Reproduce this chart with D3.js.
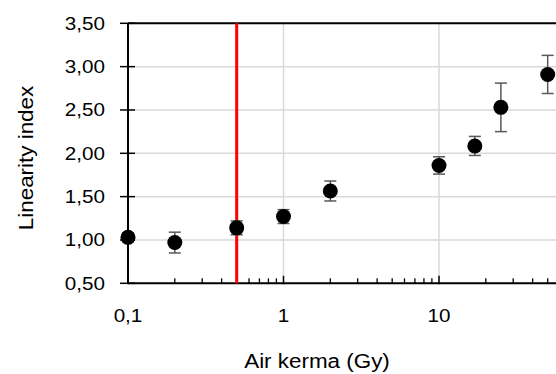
<!DOCTYPE html>
<html><head><meta charset="utf-8">
<script src="https://cdn.jsdelivr.net/npm/d3@7"></script>
<style>body{margin:0;background:#fff;} svg{display:block;font-family:"Liberation Sans",Arial,sans-serif;}</style>
</head><body>
<svg id="c" width="556" height="374"></svg>
<script>
const doses = [0.1, 0.2, 0.5, 1, 2, 10, 17, 25, 50];
const linearity = [1.03, 0.97, 1.14, 1.27, 1.565, 1.86, 2.085, 2.53, 2.91];
const errors = [0.05, 0.12, 0.08, 0.08, 0.115, 0.10, 0.11, 0.28, 0.22];
const yTicks = [0.5, 1.0, 1.5, 2.0, 2.5, 3.0, 3.5];
const xTicks = [0.1, 1, 10, 100];
const xTickLabels = [0.1, 1, 10];
const threshold = 0.5;
const xTitle = "Air kerma (Gy)";
const yTitle = "Linearity index";

const svg = d3.select("#c");
const L = 128, T = 23.3, B = 283.3, decade = 155.5;
const x = d3.scaleLog().domain([0.1, 100]).range([L, L + 3 * decade]);
const y = d3.scaleLinear().domain([0.5, 3.5]).range([B, T]);
const fmtY = d => d.toFixed(2).replace(".", ",");
const fmtX = d => String(d).replace(".", ",");

// gridlines
svg.append("g").selectAll("line").data(yTicks.filter(d => d > 0.5 && d < 3.5)).join("line")
  .attr("x1", L).attr("x2", 600).attr("y1", d => y(d)).attr("y2", d => y(d))
  .attr("stroke", "#d9d9d9").attr("stroke-width", 1.5);
svg.append("g").selectAll("line").data(xTicks.filter(d => d > 0.1)).join("line")
  .attr("x1", d => x(d)).attr("x2", d => x(d)).attr("y1", T).attr("y2", B)
  .attr("stroke", "#d9d9d9").attr("stroke-width", 1.5);

// minor x ticks
const minor = [];
[0.1, 1, 10].forEach(dec => { for (let k = 2; k <= 9; k++) minor.push(dec * k); });
svg.append("g").selectAll("line").data(minor).join("line")
  .attr("x1", d => x(d)).attr("x2", d => x(d)).attr("y1", B - 5).attr("y2", B)
  .attr("stroke", "#000").attr("stroke-width", 1.3);
svg.append("g").selectAll("line").data(xTicks).join("line")
  .attr("x1", d => x(d)).attr("x2", d => x(d)).attr("y1", B - 7.5).attr("y2", B + 1)
  .attr("stroke", "#000").attr("stroke-width", 1.5);

// y ticks
svg.append("g").selectAll("line").data(yTicks).join("line")
  .attr("x1", L - 8).attr("x2", L + 7).attr("y1", d => y(d)).attr("y2", d => y(d))
  .attr("stroke", "#000").attr("stroke-width", 1.5);

// frame
svg.append("line").attr("x1", L).attr("x2", 600).attr("y1", T).attr("y2", T).attr("stroke", "#000").attr("stroke-width", 2);
svg.append("line").attr("x1", L).attr("x2", 600).attr("y1", B).attr("y2", B).attr("stroke", "#000").attr("stroke-width", 2);
svg.append("line").attr("x1", L).attr("x2", L).attr("y1", T).attr("y2", B).attr("stroke", "#000").attr("stroke-width", 2);

// red threshold line
svg.append("line").attr("x1", x(threshold)).attr("x2", x(threshold)).attr("y1", T).attr("y2", B)
  .attr("stroke", "#ff0000").attr("stroke-width", 3);

// error bars
const data = doses.map((d, i) => ({ d, v: linearity[i], e: errors[i] }));
const eb = svg.append("g").attr("stroke", "#595959").attr("stroke-width", 1.5);
eb.selectAll("line.v").data(data).join("line").attr("class", "v")
  .attr("x1", p => x(p.d)).attr("x2", p => x(p.d)).attr("y1", p => y(p.v - p.e)).attr("y2", p => y(p.v + p.e));
eb.selectAll("line.t").data(data).join("line").attr("class", "t")
  .attr("x1", p => x(p.d) - 6).attr("x2", p => x(p.d) + 6).attr("y1", p => y(p.v + p.e)).attr("y2", p => y(p.v + p.e));
eb.selectAll("line.b").data(data).join("line").attr("class", "b")
  .attr("x1", p => x(p.d) - 6).attr("x2", p => x(p.d) + 6).attr("y1", p => y(p.v - p.e)).attr("y2", p => y(p.v - p.e));

// points
svg.append("g").selectAll("circle").data(data).join("circle")
  .attr("cx", p => x(p.d)).attr("cy", p => y(p.v)).attr("r", 7.5).attr("fill", "#000");

function stretch(sel, f) {
  sel.each(function () { const w = this.getComputedTextLength(); d3.select(this).attr("textLength", w * f).attr("lengthAdjust", "spacingAndGlyphs"); });
}

// tick labels
const yl = svg.append("g").selectAll("text").data(yTicks).join("text")
  .attr("x", 105).attr("y", d => y(d) + 6.2).attr("text-anchor", "end")
  .attr("font-size", 17.5).attr("fill", "#000").text(fmtY);
stretch(yl, 1.18);
const xl = svg.append("g").selectAll("text").data(xTickLabels).join("text")
  .attr("x", d => x(d)).attr("y", 322).attr("text-anchor", "middle")
  .attr("font-size", 17.5).attr("fill", "#000").text(fmtX);
stretch(xl, 1.18);

// titles
const xt = svg.append("text").attr("x", 317).attr("y", 368).attr("text-anchor", "middle")
  .attr("font-size", 20).attr("fill", "#000").text(xTitle);
stretch(xt, 1.12);
const yt = svg.append("text").attr("transform", "translate(33,158) rotate(-90)").attr("text-anchor", "middle")
  .attr("font-size", 20).attr("fill", "#000").text(yTitle);
stretch(yt, 1.12);
</script>
</body></html>
